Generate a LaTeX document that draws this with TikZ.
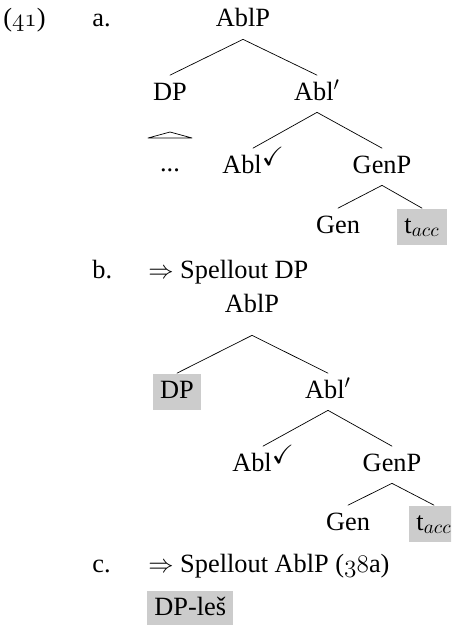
\documentclass[tikz,border=0pt]{standalone}
\usepackage{amssymb}
\usepackage{fontspec}
\setmainfont{Liberation Serif}
\newcommand{\osf}[1]{$\mathnormal{#1}$}
\newcommand{\chk}{\raisebox{4.5pt}{$\checkmark$}}
\begin{document}
\begin{tikzpicture}[x=0.02cm, y=-0.02cm, font=\fontsize{15}{18}\selectfont, line join=round, line cap=round,
  cat/.style={anchor=base, inner sep=0.14cm, text height=0.35cm, text depth=0.1cm},
  hl/.style={cat, fill=gray!40},
  lab/.style={anchor=base west, inner sep=0pt}]
\useasboundingbox (0,0) rectangle (451,625);
\clip (0,0) rectangle (451,625);
\node[lab] (ex) at (3,27) {(\osf{41})};
\node[lab] (la) at (92,27) {a.};
\node[cat] (a-ablp) at (243,27) {AblP};
\node[cat] (a-dp) at (170,100) {DP};
\node[cat] (a-ablbar) at (317,100) {Abl$'$};
\node[cat] (a-dots) at (170,171) {...};
\node[cat] (a-abl) at (253,173) {Abl\chk};
\node[cat] (a-genp) at (382,173) {GenP};
\node[cat] (a-gen) at (338,233) {Gen};
\node[hl] (a-t) at (422,233) {t$_{acc}$};
\draw (170,132) -- (148,138) -- (192,138) -- cycle;
\node[lab] (lb) at (92,278) {b.};
\node[lab] (sb) at (148,278) {$\Rightarrow$ Spellout DP};
\node[cat, text depth=0.32cm] (b-ablp) at (252,312) {AblP};
\node[hl] (b-dp) at (177,398) {DP};
\node[cat] (b-ablbar) at (328,398) {Abl$'$};
\node[cat] (b-abl) at (263,471) {Abl\chk};
\node[cat] (b-genp) at (392,471) {GenP};
\node[cat] (b-gen) at (348,530) {Gen};
\node[hl] (b-t) at (434,530) {t$_{acc}$};
\node[lab] (lc) at (92,572) {c.};
\node[lab] (sc) at (148,572) {$\Rightarrow$ Spellout AblP (\osf{38}a)};
\node[hl, anchor=base west] (c-dples) at (147,615) {DP-leš};
\foreach \p/\c in {a-ablp/a-dp, a-ablp/a-ablbar, a-ablbar/a-abl, a-ablbar/a-genp, a-genp/a-gen, a-genp/a-t,
  b-ablp/b-dp, b-ablp/b-ablbar, b-ablbar/b-abl, b-ablbar/b-genp, b-genp/b-gen, b-genp/b-t}
  \draw (\p.south) -- (\c.north);
\end{tikzpicture}
\end{document}
